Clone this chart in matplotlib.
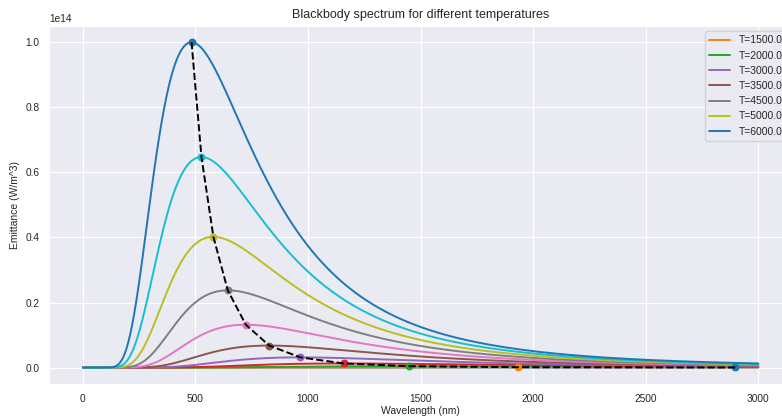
import numpy as np
import matplotlib
matplotlib.use("Agg")
import matplotlib.pyplot as plt
import seaborn as sns

# Temperatures of the plotted blackbodies (K)
temperatures = [1000.0, 1500.0, 2000.0, 2500.0, 3000.0, 3500.0,
                4000.0, 4500.0, 5000.0, 5500.0, 6000.0]
# Temperatures that carry a legend entry
legend_temps = [1500.0, 2000.0, 3000.0, 3500.0, 4500.0, 5000.0, 6000.0]
colors = ["#1f77b4", "#ff7f0e", "#2ca02c", "#d62728", "#9467bd", "#8c564b",
          "#e377c2", "#7f7f7f", "#bcbd22", "#17becf", "#1f77b4"]

# Wavelength grid (nm)
wl_start, wl_stop, wl_count = 1, 3000, 3000

h = 6.62607015e-34
c = 2.99792458e8
k = 1.380649e-23


def emittance(lam_m, T):
    """Planck spectral exitance (W/m^3)."""
    with np.errstate(over="ignore", divide="ignore"):
        return np.pi * 2 * h * c**2 / lam_m**5 / (np.expm1(h * c / (lam_m * k * T)))


sns.set_style("darkgrid")
plt.rcParams["font.family"] = ["Liberation Sans", "DejaVu Sans"]

fig = plt.figure(figsize=(7.82, 4.19), dpi=100)
ax = fig.add_axes([0.063, 0.084, 0.9498, 0.854])

wl_nm = np.linspace(wl_start, wl_stop, wl_count)
peak_x, peak_y = [], []
for T, col in zip(temperatures, colors):
    E = emittance(wl_nm * 1e-9, T)
    label = f"T={T}" if T in legend_temps else "_nolegend_"
    ax.plot(wl_nm, E, color=col, lw=1.4, label=label)
    i = np.nanargmax(E)
    peak_x.append(wl_nm[i])
    peak_y.append(E[i])
    ax.scatter(wl_nm[i], E[i], color=col, s=22, zorder=3)

ax.plot(peak_x, peak_y, "k--", lw=1.4, zorder=4)

ax.set_title("Blackbody spectrum for different temperatures", fontsize=9)
ax.set_xlabel("Wavelength (nm)", fontsize=7.5, labelpad=2)
ax.set_ylabel("Emittance (W/m^3)", fontsize=7.5)
ax.tick_params(labelsize=7.3)
ax.yaxis.get_offset_text().set_fontsize(7.3)
ax.legend(loc="upper right", fontsize=7.5)

fig.savefig("out.png", dpi=100)
